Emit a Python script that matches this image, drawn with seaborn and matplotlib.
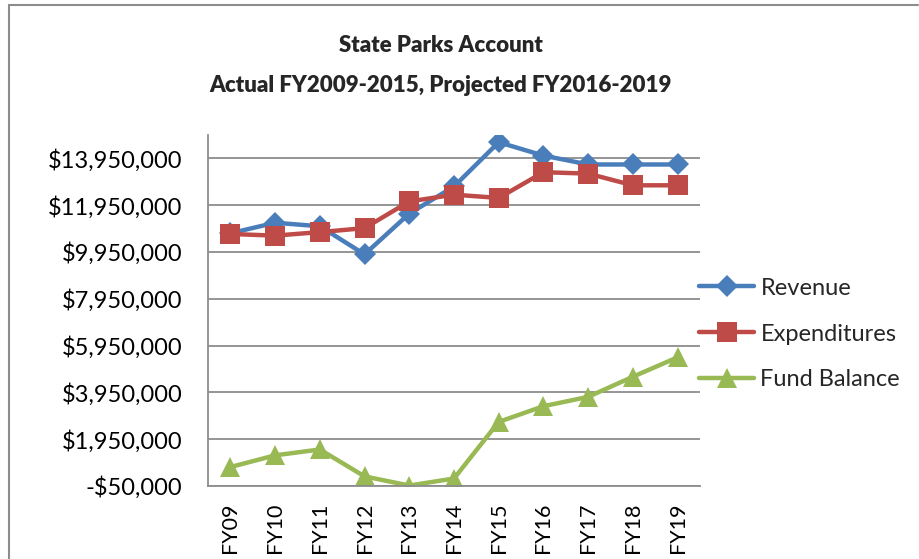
import numpy as np
import pandas as pd
import seaborn as sns
import matplotlib.pyplot as plt
from matplotlib.lines import Line2D
from matplotlib.ticker import FuncFormatter

years = ['FY09', 'FY10', 'FY11', 'FY12', 'FY13', 'FY14', 'FY15', 'FY16', 'FY17', 'FY18', 'FY19']
revenue = [10750000, 11200000, 11050000, 9850000, 11590000, 12750000, 14640000, 14070000, 13690000, 13690000, 13690000]
expenditures = [10720000, 10650000, 10800000, 10970000, 12110000, 12400000, 12260000, 13360000, 13300000, 12800000, 12800000]
fund_balance = [760000, 1260000, 1510000, 360000, -30000, 270000, 2690000, 3360000, 3760000, 4620000, 5450000]
series_names = ['Revenue', 'Expenditures', 'Fund Balance']

df = pd.DataFrame({'year': years, 'Revenue': revenue,
                   'Expenditures': expenditures, 'Fund Balance': fund_balance})
long_df = df.melt(id_vars='year', var_name='series', value_name='amount')

colors = {'Revenue': '#4A7EBB', 'Expenditures': '#BE4B48', 'Fund Balance': '#98B954'}
markers = {'Revenue': 'D', 'Expenditures': 's', 'Fund Balance': '^'}
msizes = {'Revenue': 11, 'Expenditures': 14, 'Fund Balance': 14}

sns.set_style('white')
plt.rcParams['font.family'] = ['Lato', 'DejaVu Sans']

fig = plt.figure(figsize=(9.19, 5.59), dpi=100)
ax = fig.add_axes([208 / 919, 1 - 486 / 559, 492 / 919, 351 / 559])

for name in series_names:
    sub = long_df[long_df['series'] == name]
    sns.lineplot(data=sub, x='year', y='amount', ax=ax, color=colors[name],
                 linewidth=3.2, marker=markers[name], markersize=msizes[name],
                 markeredgewidth=0, sort=False, legend=False)

ax.set_xlim(-0.5, len(years) - 0.5)
ax.set_ylim(-50000, 14950000)
ax.set_yticks(np.arange(-50000, 14000000, 2000000))
ax.yaxis.set_major_formatter(FuncFormatter(
    lambda v, p: f'-${abs(v):,.0f}' if v < 0 else f'${v:,.0f}'))
ax.grid(axis='y', color='#8C8C8C', linewidth=1.3)
ax.set_axisbelow(True)
ax.set_xlabel('')
ax.set_ylabel('')
ax.tick_params(axis='both', length=0, colors='black')
ax.tick_params(axis='y', labelsize=17, pad=18.5)
ax.tick_params(axis='x', labelsize=15.5, pad=12)
plt.setp(ax.get_xticklabels(), rotation=90)
for s in ['top', 'right']:
    ax.spines[s].set_visible(False)
for s in ['left', 'bottom']:
    ax.spines[s].set_color('#8C8C8C')
    ax.spines[s].set_linewidth(1.3)

handles = [Line2D([0], [0], color=colors[n], linewidth=3.2, marker=markers[n],
                  markersize=msizes[n], markeredgewidth=0) for n in series_names]
fig.legend(handles, series_names, loc='center left',
           bbox_to_anchor=(699 / 919, 1 - 334 / 559), frameon=False,
           fontsize=17, handlelength=2.35, handletextpad=0.25, labelspacing=1.05,
           borderaxespad=0, borderpad=0)

fig.text(441 / 919, 1 - 45 / 559, 'State Parks Account', ha='center', va='center',
         fontsize=16, fontweight='heavy')
fig.text(440 / 919, 1 - 85 / 559, 'Actual FY2009-2015, Projected FY2016-2019',
         ha='center', va='center', fontsize=16, fontweight='heavy')

# chart border
fig.add_artist(Line2D([9 / 919, 918 / 919], [1 - 5 / 559, 1 - 5 / 559],
                      color='#8C8C8C', linewidth=1.5))
fig.add_artist(Line2D([9 / 919, 9 / 919], [1 - 5 / 559, 0],
                      color='#8C8C8C', linewidth=1.5))

fig.savefig('out.png', dpi=100)
